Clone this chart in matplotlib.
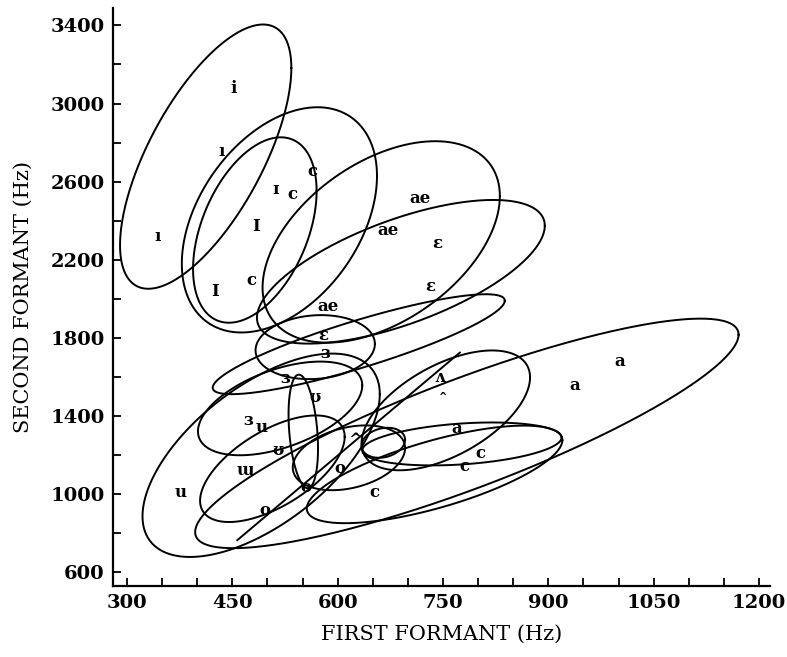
import numpy as np
import matplotlib
matplotlib.use("Agg")
import matplotlib.pyplot as plt

# vowel regions: centre (F1, F2), half range in F1 and F2, F1-F2 correlation
ell_names = ["i", "I_wide", "I_narrow", "ae_big", "eh_long", "ae_small", "er_thin",
             "er", "U_narrow", "u", "uu", "o", "o_small", "uh", "c_flat", "c_low", "a"]
ell_f1 = [412, 517, 482, 662, 690, 568, 630, 518, 551, 491, 507, 616, 665, 754, 777, 738, 784]
ell_f2 = [2728, 2404, 2352, 2291, 2138, 1752, 1767, 1438, 1320, 1198, 1129, 1185, 1262, 1428, 1256, 1100, 1310]
ell_s1 = [122, 139, 88, 169, 205, 85, 208, 117, 21, 169, 103, 80, 31, 120, 142, 182, 387]
ell_s2 = [677, 577, 475, 516, 368, 164, 256, 240, 291, 521, 273, 166, 77, 307, 110, 250, 588]
ell_r = [0.67, 0.39, 0.42, 0.455, 0.64, 0.1, 0.87, 0.49, -0.3, 0.6, 0.6, 0.3, 0.2, 0.55, 0.3, 0.7, 0.86]

# open stroke in the lower cluster (end points, Hz)
open_f1 = [457, 774]
open_f2 = [763, 1724]

# vowel symbols and their positions
sym_text = ["i", "ı", "ı", "ɪ", "c", "c", "I", "c", "I",
            "ae", "ae", "ae", "ɛ", "ɛ", "ɛ",
            "ɜ", "ɜ", "ɜ", "u", "ʊ", "ʊ", "ɯ", "u",
            "o", "o", "o", "^", "ʌ", "ˆ",
            "a", "a", "a", "c", "c", "c"]
sym_f1 = [451, 435, 343, 511, 536, 564, 484, 477, 425,
          717, 672, 586, 742, 732, 579,
          582, 525, 472, 492, 568, 515, 468, 376,
          497, 554, 603, 625, 746, 750,
          1002, 937, 769, 653, 781, 803]
sym_f2 = [3078, 2756, 2317, 2562, 2536, 2654, 2368, 2092, 2036,
          2511, 2352, 1959, 2281, 2061, 1811,
          1719, 1591, 1376, 1341, 1494, 1223, 1121, 1009,
          917, 1034, 1131, 1274, 1596, 1479,
          1678, 1555, 1336, 1009, 1141, 1208]

x_ticks = np.arange(300, 1201, 50)
x_labels = [300, 450, 600, 750, 900, 1050, 1200]
y_ticks = np.arange(600, 3401, 200)
y_labels = [600, 1000, 1400, 1800, 2200, 2600, 3000, 3400]

plt.rcParams["font.family"] = ["DejaVu Serif"]

fig = plt.figure(figsize=(7.87, 6.57), dpi=100)
ax = fig.add_axes([0.1436, 0.108, 0.835, 0.88])

t = np.linspace(0, 2 * np.pi, 400)
for f1, f2, s1, s2, r in zip(ell_f1, ell_f2, ell_s1, ell_s2, ell_r):
    xs = f1 + s1 * np.cos(t)
    ys = f2 + s2 * (r * np.cos(t) + np.sqrt(1 - r ** 2) * np.sin(t))
    ax.plot(xs, ys, color="black", lw=1.4)

ax.plot(open_f1, open_f2, color="black", lw=1.4)

for s, x, y in zip(sym_text, sym_f1, sym_f2):
    ax.text(x, y, s, ha="center", va="center", fontsize=12, fontweight="bold")

ax.set_xlim(280, 1216)
ax.set_ylim(528, 3490)

for side in ["top", "right"]:
    ax.spines[side].set_visible(False)
for side in ["left", "bottom"]:
    ax.spines[side].set_linewidth(1.6)

ax.set_xticks(x_ticks)
ax.set_xticklabels([str(v) if v in x_labels else "" for v in x_ticks])
ax.set_yticks(y_ticks)
ax.set_yticklabels([str(v) if v in y_labels else "" for v in y_ticks])
ax.tick_params(direction="in", length=6, width=1.3, labelsize=14, pad=6)
for lab in ax.get_xticklabels() + ax.get_yticklabels():
    lab.set_fontweight("bold")

ax.set_xlabel("FIRST FORMANT (Hz)", fontsize=15, labelpad=9)
ax.set_ylabel("SECOND FORMANT (Hz)", fontsize=15, labelpad=13)

fig.savefig("out.png", dpi=100)
